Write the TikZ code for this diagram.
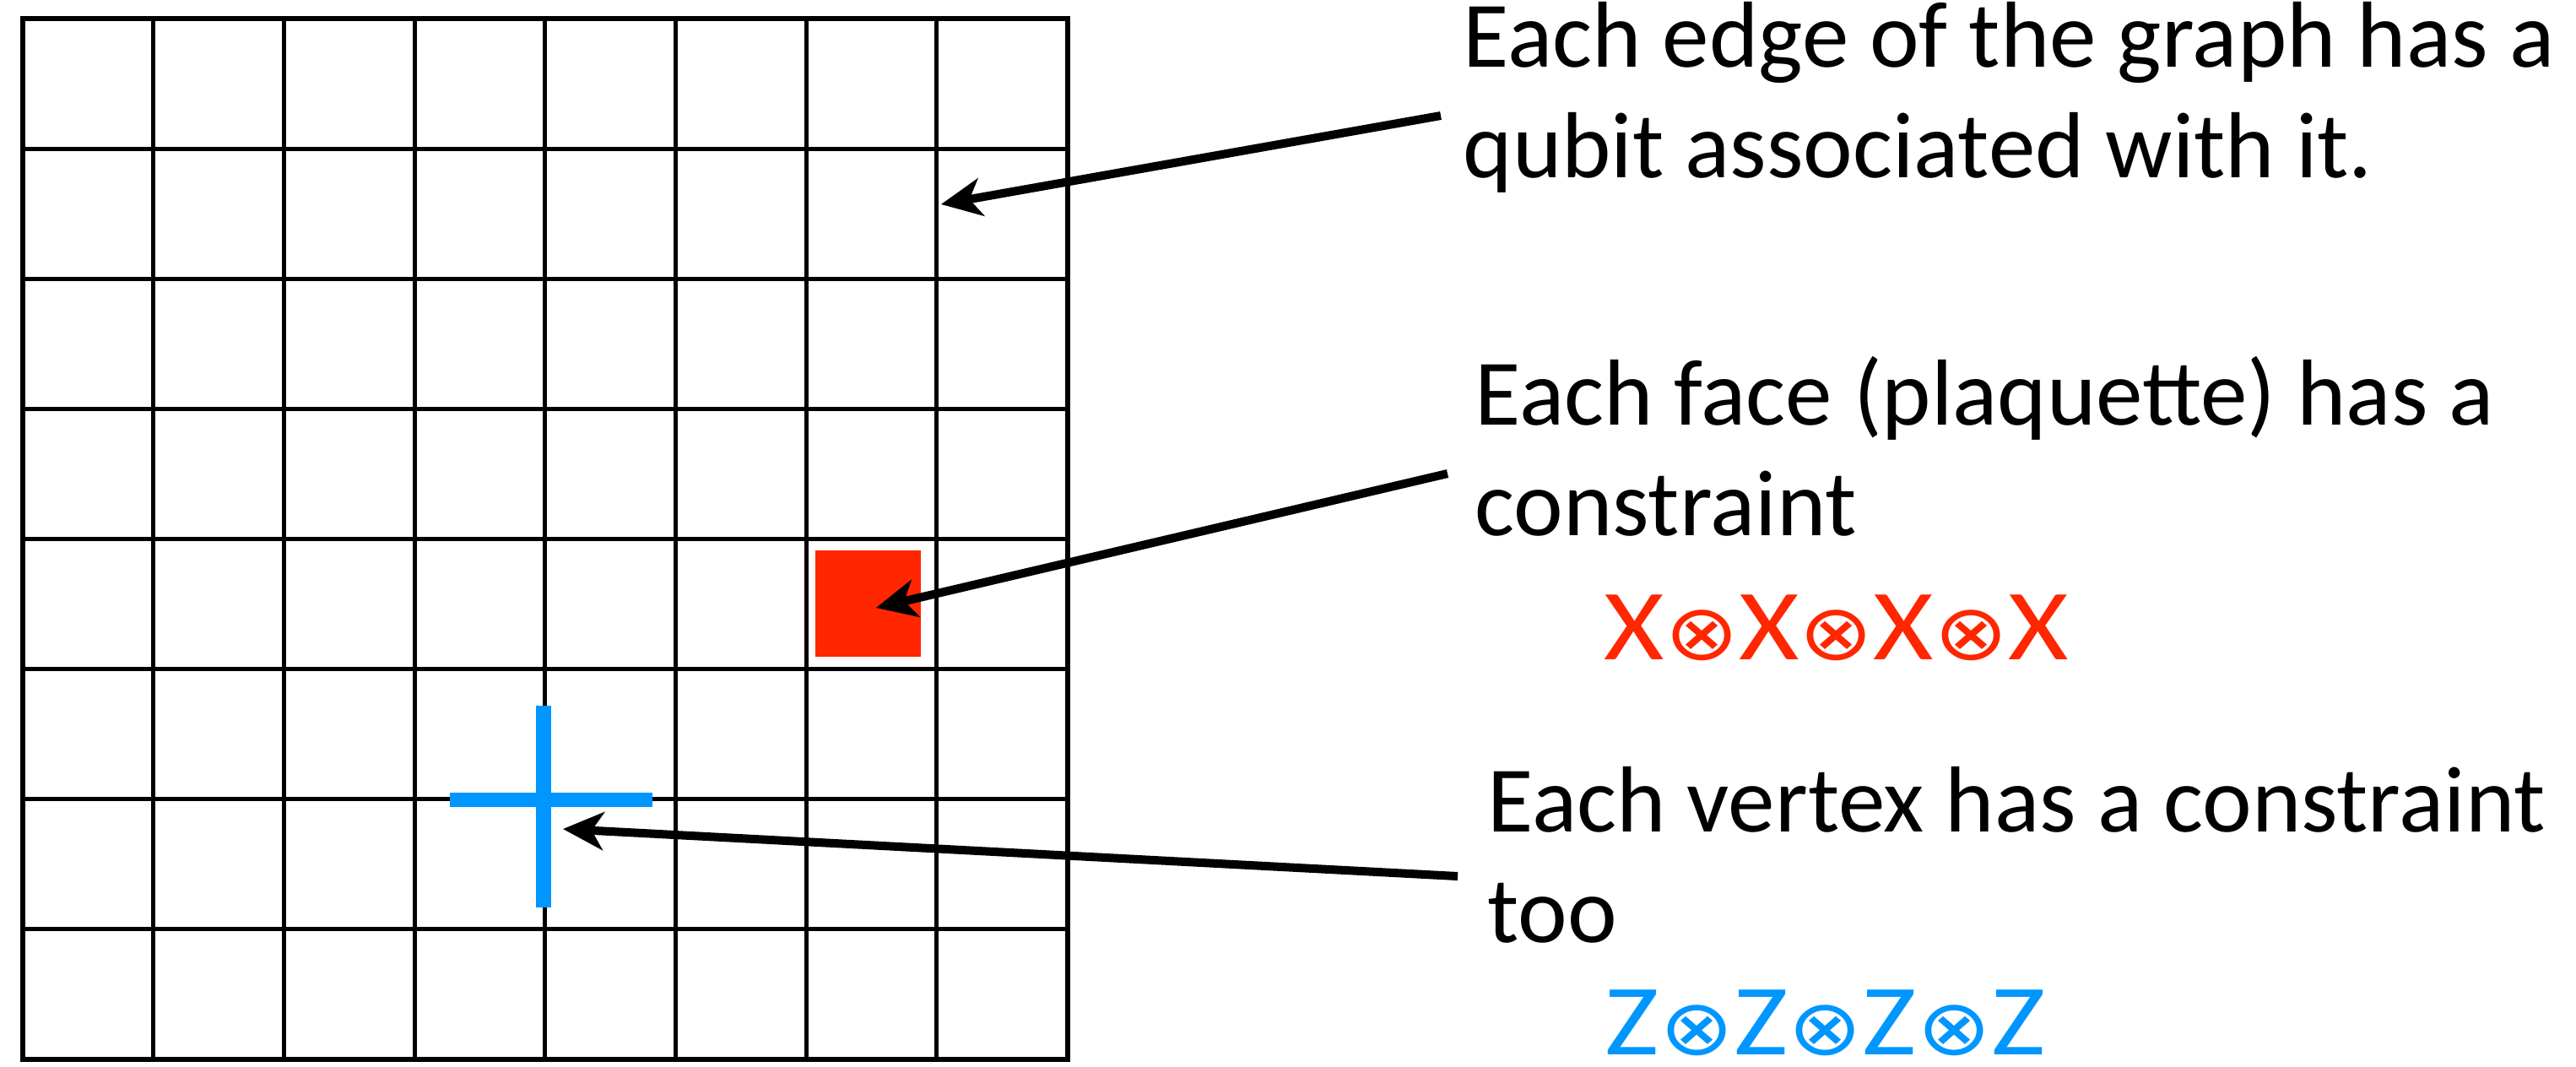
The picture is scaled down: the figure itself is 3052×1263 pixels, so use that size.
\documentclass[tikz,border=0pt]{standalone}
\usepackage{fontspec}
\setmainfont{Carlito}
\newfontfamily\symfont{DejaVu Sans}
\usetikzlibrary{arrows.meta}

\definecolor{plaqred}{RGB}{255,38,0}
\definecolor{vertblue}{RGB}{0,150,255}

\tikzset{
  gridline/.style={line width=1.45pt},
  pointer/.style={line width=2.85pt,-{Stealth[length=4.8mm,width=4.5mm,inset=1.4mm]}},
  caption/.style={anchor=base west,inner sep=0pt,align=left,
    font=\fontsize{31.6}{37}\selectfont},
  ops/.style={anchor=base west,inner sep=0pt,xscale=1.15,font=\fontsize{34}{34}\selectfont},
}
\newcommand{\ox}{{\symfont\fontsize{26}{26}\selectfont ⊗}}

\begin{document}
\begin{tikzpicture}[x=0.01cm,y=-0.01cm]
  \useasboundingbox (0,0) rectangle (3052,1263);
% lattice
  \foreach \i in {0,...,8}{
    \draw[gridline] (27+154.69*\i,22) -- (27+154.69*\i,1255);
    \draw[gridline] (27,22+154.13*\i) -- (1264.5,22+154.13*\i);
  }
  \draw[line width=1.7pt] (27,22) rectangle (1264.5,1255);
% plaquette
  \fill[plaqred] (965.7,652) rectangle (1090.7,777.7);
% star on a vertex
  \draw[vertblue,line width=5.1pt] (533,947.5) -- (773,947.5);
  \draw[vertblue,line width=5.1pt] (644,836) -- (644,1075);

% edge note (base = last line)
  \node[caption] (edgetxt) at (1733,210) {Each edge of the graph has a\\qubit associated with it.};
  \coordinate (edgetail) at (1707,137);
  \coordinate (edgetip) at (1115,242);
  \draw[pointer] (edgetail) -- (edgetip);
% face note
  \node[caption] (facetxt) at (1747,634) {Each face (plaquette) has a\\constraint};
  \coordinate (xpos) at (1900,781);
  \node[ops,text=plaqred] (xops) at (xpos) {X\ox X\ox X\ox X};
  \coordinate (facetail) at (1715,561);
  \coordinate (facetip) at (1038,720);
  \draw[pointer] (facetail) -- (facetip);
% vertex note
  \node[caption] (verttxt) at (1762,1116) {Each vertex has a constraint\\too};
  \coordinate (zpos) at (1901,1249);
  \node[ops,text=vertblue] (zops) at (zpos) {Z\ox Z\ox Z\ox Z};
  \coordinate (verttail) at (1727,1038);
  \coordinate (verttip) at (667,982);
  \draw[pointer] (verttail) -- (verttip);
\end{tikzpicture}
\end{document}
